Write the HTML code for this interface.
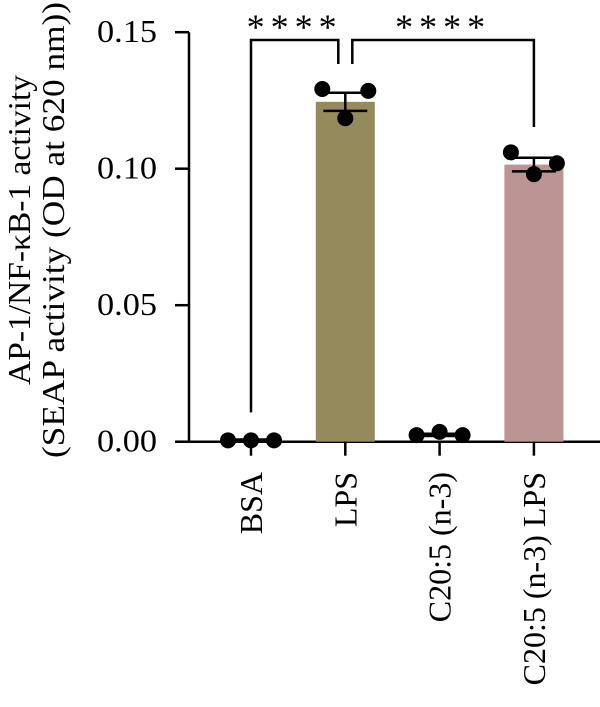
<!DOCTYPE html>
<html><head><meta charset="utf-8"><style>
body{margin:0;background:#fff}
svg{display:block}
text{font-family:"Liberation Serif",serif;fill:#000}
</style></head><body>
<svg id="chart" width="600" height="707" viewBox="0 0 600 707" xmlns="http://www.w3.org/2000/svg">
<g>
<text transform="translate(30,230) rotate(-90)" text-anchor="middle" font-size="32" textLength="310" lengthAdjust="spacingAndGlyphs">AP-1/NF-κB-1 activity</text>
<text transform="translate(64,230) rotate(-90)" text-anchor="middle" font-size="32" textLength="456" lengthAdjust="spacingAndGlyphs">(SEAP activity (OD at 620 nm))</text>
</g>
<g id="plot"></g>
</svg>
<script>
const categories=["BSA","LPS","C20:5 (n-3)","C20:5 (n-3) LPS"];
const means=[0.0005,0.1245,0.0025,0.1015];
const sems=[0.0003,0.0033,0.0004,0.0025];
const pts0=[0.0005,0.0005,0.0005];
const pts1=[0.1292,0.1185,0.1285];
const pts2=[0.0024,0.0036,0.0024];
const pts3=[0.106,0.098,0.102];
const points=[pts0,pts1,pts2,pts3];
const yTicks=[0,0.05,0.10,0.15];
const yTickLabels=["0.00","0.05","0.10","0.15"];
const colors=["#ffffff","#948a5c","#ffffff","#bd9494"];
const sig=[{a:0,b:1,label:"****"},{a:1,b:3,label:"****"}];

const NS="http://www.w3.org/2000/svg";
const g=document.getElementById('plot');
const y0=441.7, pxPer=2730;
const Y=v=>y0-v*pxPer;
const X=i=>251+i*94.3;
function el(t,a,p){const e=document.createElementNS(NS,t);for(const k in a)e.setAttribute(k,a[k]);(p||g).appendChild(e);return e;}

// axes
const ya=el('line',{x1:189,y1:Y(0.15),x2:189,y2:y0,stroke:'#000','stroke-width':2.5});


const xa=el('line',{x1:175,y1:y0,x2:600,y2:y0,stroke:'#000','stroke-width':2.5});


yTicks.forEach((v,i)=>{
  el('line',{x1:175,y1:Y(v),x2:189,y2:Y(v),stroke:'#000','stroke-width':2.5});
  const t=el('text',{x:157,y:Y(v)+10,'text-anchor':'end','font-size':32,textLength:60,lengthAdjust:'spacingAndGlyphs'});
  t.textContent=yTickLabels[i];
  
  
});
categories.forEach((c,i)=>{
  const x=X(i);
  if(colors[i]!=="#ffffff"){
    const b=el('rect',{x:x-29.5,y:Y(means[i]),width:59,height:y0-Y(means[i]),fill:colors[i]});
    
    
  }
  el('line',{x1:x,y1:y0,x2:x,y2:y0+14,stroke:'#000','stroke-width':2.5});
  const t=el('text',{transform:`translate(${x+11},472) rotate(-90)`,'text-anchor':'end','font-size':32});
  t.textContent=c;
  
  
  // error bar
  const hi=Y(means[i]+sems[i]),lo=Y(means[i]-sems[i]);
  el('line',{x1:x,y1:hi,x2:x,y2:lo,stroke:'#000','stroke-width':2.5});
  el('line',{x1:x-22,y1:hi,x2:x+22,y2:hi,stroke:'#000','stroke-width':2.5});
  el('line',{x1:x-22,y1:lo,x2:x+22,y2:lo,stroke:'#000','stroke-width':2.5});
  points[i].forEach((v,j)=>{
    const d=el('circle',{cx:x+(j-1)*23,cy:Y(v),r:8,fill:'#000'});
    
    
  });
});
// significance brackets
const by=40;
sig.forEach((s,k)=>{
  const xa_=X(s.a)+(k===1?7:0), xb=X(s.b)-(k===0?7:0);
  const ya1=k===0?Y(means[s.a])-28:64, yb1=k===0?64:127;
  const p=el('path',{d:`M${xa_},${ya1}V${by}H${xb}V${yb1}`,fill:'none',stroke:'#000','stroke-width':2.5});
  
  
  const t=el('text',{x:(xa_+xb)/2,y:by-1,'text-anchor':'middle','font-size':36,'letter-spacing':6});
  t.textContent=s.label;
  
  
});
</script>
</body></html>
